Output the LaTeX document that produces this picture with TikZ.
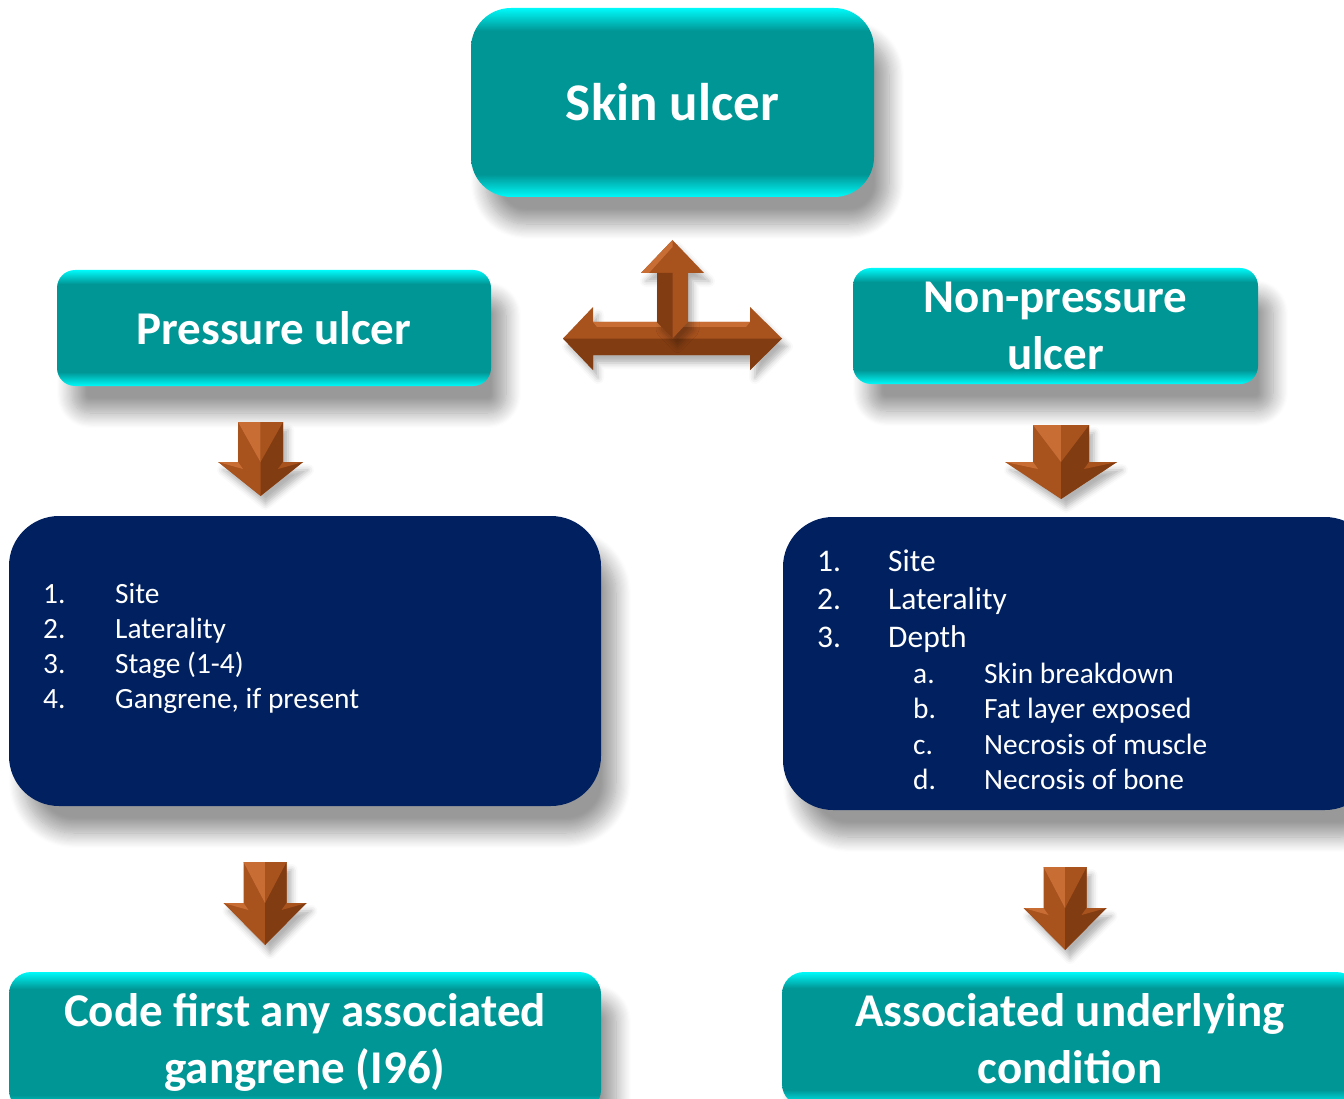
\documentclass[tikz,border=0pt]{standalone}
\usepackage{fontspec}
\setmainfont{Carlito}
\usetikzlibrary{shadows.blur}

\definecolor{tealbox}{RGB}{0,150,150}
\definecolor{tealedge}{RGB}{0,250,250}
\definecolor{navybox}{RGB}{0,32,96}
\definecolor{arrowlight}{RGB}{200,110,52}
\definecolor{arrowmid}{RGB}{168,82,30}
\definecolor{arrowdark}{RGB}{130,60,18}

% cyan glow along top and bottom edge
\pgfdeclareverticalshading{tealband}{100bp}{color(0bp)=(tealedge); color(25bp)=(tealedge);
  color(31bp)=(tealbox); color(69bp)=(tealbox); color(75bp)=(tealedge); color(100bp)=(tealedge)}

% block arrow pointing down: name, x, top, head base, tip, half shaft, half head
\newcommand{\downblock}[7]{%
  \coordinate (#1) at (#2,#5);
  \fill[arrowmid, blur shadow={shadow xshift=5pt, shadow yshift=-8pt, shadow blur radius=6pt, shadow opacity=30}]
    (#2-#6,#3) -- (#2+#6,#3) -- (#2+#6,#4) -- (#2+#7,#4) -- (#2,#5) -- (#2-#7,#4) -- (#2-#6,#4) -- cycle;
  \fill[arrowdark] (#2,#3) -- (#2+#6,#3) -- (#2+#6,#4) -- (#2+#7,#4) -- (#2,#5) -- cycle;
  \fill[arrowlight] (#2-#6,#3) -- (#2,#3) -- (#2,#4) -- cycle;
  \fill[arrowmid] (#2,#3) -- (#2+#6,#3) -- (#2,#4) -- cycle;
  \fill[arrowlight] (#2-#7,#4) -- (#2-#6,#4) -- (#2-#6+5,#4+7) -- cycle;
  \fill[arrowmid] (#2+#7,#4) -- (#2+#6,#4) -- (#2+#6-5,#4+7) -- cycle;
}

\begin{document}
\begin{tikzpicture}[x=1pt, y=-1pt,
    ulcerbox/.style={shade, shading=tealband, rounded corners=#1, text=white, align=center,
      inner sep=0pt, font=\bfseries\fontsize{47}{57}\selectfont,
      blur shadow={shadow xshift=15pt, shadow yshift=-27pt, shadow blur radius=15pt,
        shadow blur steps=14, shadow opacity=40}},
    ulcerbox/.default=18pt,
    listbox/.style={fill=navybox, rounded corners=50pt, inner sep=0pt,
      blur shadow={shadow xshift=15pt, shadow yshift=-27pt, shadow blur radius=15pt,
        shadow blur steps=14, shadow opacity=40}},
    itemtxt/.style={anchor=base west, text=white, inner sep=0pt, font=\fontsize{29.4}{35}\selectfont},
    bigitem/.style={itemtxt, font=\fontsize{31.5}{38}\selectfont}
  ]
  \useasboundingbox (0,0) rectangle (1344,1099);

  % top level
  \node[ulcerbox=40pt, minimum width=403pt, minimum height=189pt,
    font=\bfseries\fontsize{53}{64}\selectfont] (skin) at (672.5,102.5) {Skin ulcer};
  \node[ulcerbox, minimum width=434pt, minimum height=116pt] (press) at (274,328) {Pressure ulcer};
  \node[ulcerbox, minimum width=405pt, minimum height=116pt] (nonpress) at (1055.5,326) {Non-pressure\\ulcer};

  % branching arrow
  \coordinate (tj) at (672.5,338.5);
  \fill[arrowmid, blur shadow={shadow xshift=5pt, shadow yshift=-8pt, shadow blur radius=6pt, shadow opacity=30}]
    (563,338.5) -- (593,307) -- (593,322) -- (750,322) -- (750,307) -- (782,338.5)
    -- (750,370) -- (750,355) -- (593,355) -- (593,370) -- cycle;
  \fill[arrowdark] (563,338.5) -- (782,338.5) -- (750,370) -- (750,355) -- (593,355) -- (593,370) -- cycle;
  \fill[arrowlight] (593,322) -- (750,322) -- (746,327) -- (597,327) -- cycle;
  \fill[arrowmid, blur shadow={shadow xshift=5pt, shadow yshift=-8pt, shadow blur radius=6pt, shadow opacity=30}]
    (657,322) -- (657,273) -- (641,273) -- (672.5,240) -- (704,273) -- (688,273) -- (688,322) -- (tj) -- cycle;
  \fill[arrowdark] (657,322) -- (657,273) -- (672.5,273) -- (tj) -- cycle;
  \fill[arrowlight] (641,273) -- (672.5,240) -- (672.5,247) -- (649,273) -- cycle;

  % arrows down
  \downblock{pd1}{260.5}{422}{462}{496}{22.5}{42.5}
  \downblock{nd1}{1061}{425}{462}{499}{28}{56}
  \downblock{pd2}{265}{862}{903}{945}{21.5}{41.5}
  \downblock{nd2}{1065}{867}{908}{950}{21.5}{41.5}

  % detail boxes
  \node[listbox, minimum width=592pt, minimum height=290pt] (plist) at (305,661) {};
  \node[listbox, minimum width=592pt, minimum height=293pt] (nlist) at (1079,663.5) {};

  \foreach \n/\t [count=\i] in {1./Site, 2./Laterality, 3./Stage (1-4), 4./{Gangrene, if present}} {
    \node[itemtxt] (pn\i) at (43,568+35*\i) {\n};
    \node[itemtxt] (pt\i) at (115,568+35*\i) {\t};
  }
  \foreach \n/\t [count=\i] in {1./Site, 2./Laterality, 3./Depth} {
    \node[bigitem] (nn\i) at (817,533+38*\i) {\n};
    \node[bigitem] (nt\i) at (888,533+38*\i) {\t};
  }
  \foreach \n/\t [count=\i] in {a./Skin breakdown, b./Fat layer exposed, c./Necrosis of muscle, d./Necrosis of bone} {
    \node[itemtxt] (sn\i) at (913,647.5+35.5*\i) {\n};
    \node[itemtxt] (st\i) at (984,647.5+35.5*\i) {\t};
  }

  % bottom level
  \node[ulcerbox=22pt, minimum width=592pt, minimum height=140pt] (gang) at (305,1042)
    {Code first any associated\\gangrene (I96)};
  \node[ulcerbox=22pt, minimum width=576pt, minimum height=134pt] (cond) at (1070,1039)
    {Associated underlying\\condition};
\end{tikzpicture}
\end{document}
